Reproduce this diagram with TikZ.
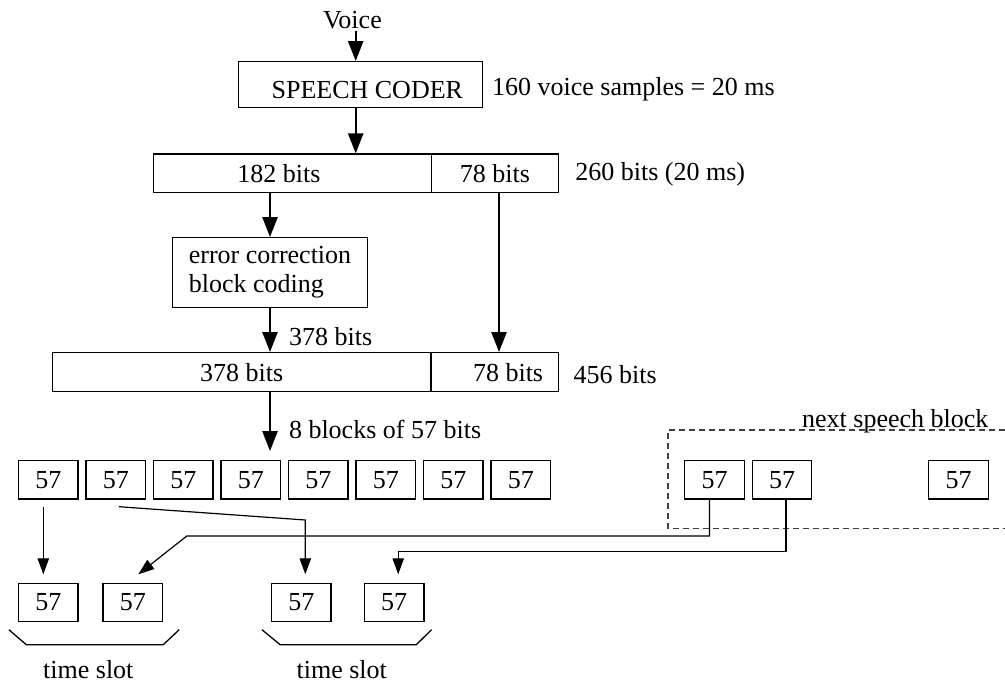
\documentclass[tikz,border=0pt]{standalone}
\usepackage{fontspec}
\setmainfont{Liberation Serif}
\usepackage{tikz}
\usetikzlibrary{calc,arrows.meta}

\begin{document}
\begin{tikzpicture}[x=0.5pt,y=-0.5pt,
		every node/.style={font=\fontsize{13}{14.35}\selectfont,inner sep=0pt},
		box/.style={draw,line width=0.65pt},
		slot/.style={box,minimum width=29.75pt,minimum height=19.25pt},
		flow/.style={line width=1.2pt,-{Triangle[length=10pt,width=7.5pt]}},
		link/.style={line width=0.6pt,-{Triangle[length=8pt,width=5.7pt]}}]
			\useasboundingbox (0,0) rectangle (1005,683);

			\node(voice) at (352.4,20.5) {Voice};
			\node(coder)[box,minimum width=122.2pt,minimum height=23pt,label={[xshift=3.4pt,yshift=-2.6pt]center:SPEECH CODER}] at (360.5,84.7) {};
			\node(samples)[anchor=west] at (491.7,89.5) {160 voice samples = 20 ms};

			\node(bitsA)[box,minimum width=139.2pt,minimum height=19.15pt,label={[xshift=-6.75pt]center:182 bits}] at (292.5,173.2) {};
			\node(bitsB)[box,minimum width=63.3pt,minimum height=19.15pt] at (495,173.2) {78 bits};
			\node(rate)[anchor=west] at (575,174.5) {260 bits (20 ms)};

			\node(err)[box,minimum width=97.2pt,minimum height=34.8pt,align=left] at (270,272.5) {error correction\\block coding};
			\node(coded)[anchor=west] at (288.8,337) {378 bits};

			\node(bitsC)[box,minimum width=189.35pt,minimum height=19.5pt] at (241.65,372.2) {378 bits};
			\node(bitsD)[box,minimum width=63.65pt,minimum height=19.5pt,label={[xshift=6.7pt]center:78 bits}] at (494.65,372.2) {};
			\node(total)[anchor=west] at (573.3,374.5) {456 bits};

			\node(split)[anchor=west] at (288.6,429) {8 blocks of 57 bits};

			\foreach \i in {1,...,8}
				\node(q\i)[slot] at ({48.3+67.5*(\i-1)},479.8) {57};
			\node(n1)[slot] at (714.5,479.8) {57};
			\node(n2)[slot] at (782,479.8) {57};
			\node(n3)[slot] at (958.5,479.8) {57};
			\draw[dashed,black!75,line width=0.6pt,dash pattern=on 3pt off 2pt] (1005,430) -- (668,430) -- (668,528.3) -- (1005,528.3);
			\node(next)[anchor=base west] at (801.7,428) {next speech block};

			\node(t1)[slot] at (48.3,602.5) {57};
			\node(t2)[slot] at (132.8,602.5) {57};
			\node(t3)[slot] at (301.3,602.5) {57};
			\node(t4)[slot] at (394.2,602.5) {57};

			\coordinate(spine) at ($(voice.south)+(3.3,1)$);
			\draw[flow] (spine) -- (spine |- coder.north);
			\draw[flow] (spine |- coder.south) -- (spine |- bitsA.north);
			\draw[flow] (err.north |- bitsA.south) -- (err.north);
			\draw[flow] (err.south) -- (err.south |- bitsC.north);
			\coordinate(tail) at ([xshift=2pt]bitsB.south);
			\draw[flow] (tail) -- (tail |- bitsD.north);
			\draw[flow,shorten >=4.4pt] (err.south |- bitsC.south) -- (err.south |- q4.north);

			\draw[link] ($(q1.south)+(-5,7)$) -- ($(t1.north)+(-5,-8.3)$);
			\draw[link] ($(q2.south)+(3,7)$) -- ($(t3.north)+(4,-62.6)$) -- ($(t3.north)+(4,-8.3)$);
			\draw[link] ($(n1.south)+(-5,0)$) |- ($(t2.north)+(54,-46.6)$) -- ($(t2.north)+(5.5,-8.3)$);
			\draw[link] ($(n2.south)+(4,0)$) |- ($(t4.north)+(4,-31)$) -- ($(t4.north)+(4,-8.3)$);

			\draw[line width=0.65pt] ($(t1.south west)+(-9,7.3)$) -- ($(t1.south west)+(8.4,22.3)$) -- ($(t2.south east)+(0,22.3)$) -- ($(t2.south east)+(16,7.3)$);
			\draw[line width=0.65pt] ($(t3.south west)+(-9,7.3)$) -- ($(t3.south west)+(9.3,22.3)$) -- ($(t4.south east)+(-8.3,22.3)$) -- ($(t4.south east)+(7,7.3)$);
			\node(slotA) at (88.3,669.5) {time slot};
			\node(slotB) at (341.7,669.5) {time slot};
		\end{tikzpicture}
\end{document}
